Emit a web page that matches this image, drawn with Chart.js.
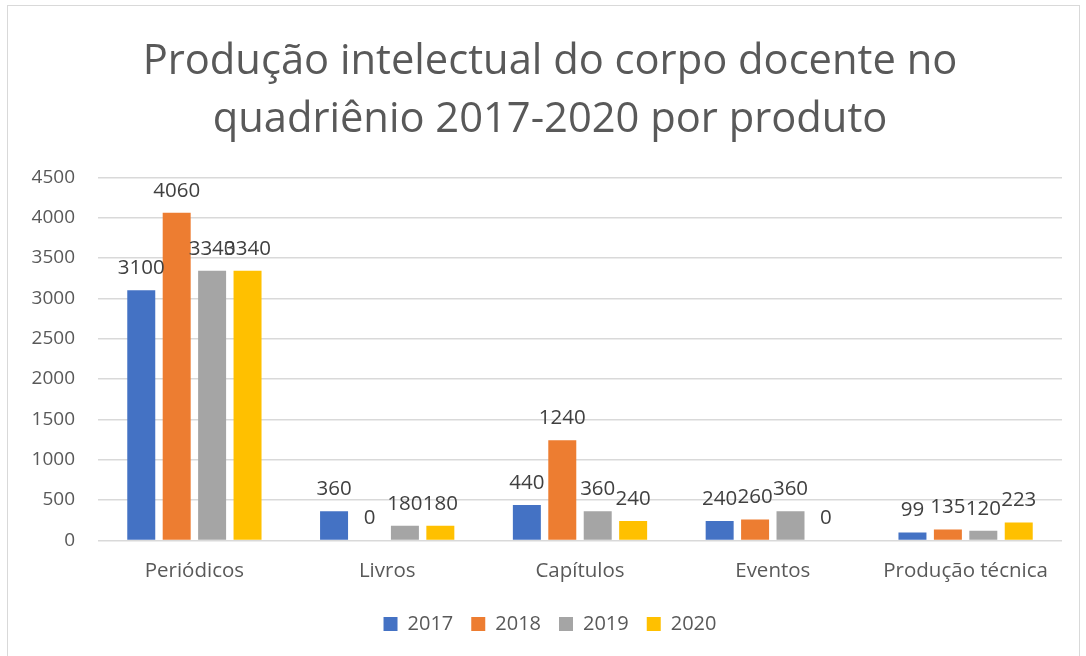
<!DOCTYPE html>
<html>
<head>
<meta charset="utf-8">
<script src="https://cdn.jsdelivr.net/npm/chart.js@4.4.0/dist/chart.umd.min.js"></script>
<style>
  html, body { margin: 0; padding: 0; background: #ffffff; }
  #wrap { position: relative; width: 1086px; height: 656px; overflow: hidden; }
  #frame { position: absolute; left: 7px; top: 5px; width: 1073px; height: 700px; border: 1px solid #d9d9d9; box-sizing: border-box; }
  canvas { position: absolute; left: 0; top: 0; }
</style>
</head>
<body>
<div id="wrap">
  <div id="frame"></div>
  <canvas id="c" width="1086" height="656"></canvas>
</div>
<script>
const categories = ["Periódicos", "Livros", "Capítulos", "Eventos", "Produção técnica"];
const seriesNames = ["2017", "2018", "2019", "2020"];
const values2017 = [3100, 360, 440, 240, 99];
const values2018 = [4060, 0, 1240, 260, 135];
const values2019 = [3340, 180, 360, 360, 120];
const values2020 = [3340, 180, 240, 0, 223];
const colors = ["#4472C4", "#ED7D31", "#A5A5A5", "#FFC000"];
const titleLines = ["Produção intelectual do corpo docente no", "quadriênio 2017-2020 por produto"];

const FONT = "'Open Sans', 'Noto Sans', sans-serif";
const TEXT = "#595959";

const labelPlugin = {
  id: 'barLabels',
  afterDatasetsDraw(chart) {
    const ctx = chart.ctx;
    ctx.save();
    ctx.font = "20.5px " + FONT;
    ctx.fillStyle = "#404040";
    ctx.textAlign = "center";
    ctx.textBaseline = "middle";
    chart.data.datasets.forEach((ds, i) => {
      const meta = chart.getDatasetMeta(i);
      meta.data.forEach((el, j) => {
        ctx.fillText(String(ds.data[j]), el.x, el.y - 22);
      });
    });
    ctx.restore();
  }
};

const allSeries = [values2017, values2018, values2019, values2020];

new Chart(document.getElementById('c'), {
  type: 'bar',
  data: {
    labels: categories,
    datasets: seriesNames.map((n, i) => ({
      label: n,
      data: allSeries[i],
      backgroundColor: colors[i],
      borderWidth: 0,
      categoryPercentage: 0.735,
      barPercentage: 0.79
    }))
  },
  options: {
    responsive: false,
    animation: false,
    devicePixelRatio: 1,
    layout: { padding: { left: 38, right: 24, top: 0, bottom: 12 } },
    plugins: {
      title: {
        display: true,
        text: titleLines,
        color: TEXT,
        font: { family: FONT, size: 41.7, weight: 'normal', lineHeight: 1.4 },
        padding: { top: 33, bottom: 27.5 }
      },
      legend: {
        position: 'bottom',
        labels: {
          color: TEXT,
          font: { family: FONT, size: 20 },
          boxWidth: 14,
          boxHeight: 14,
          padding: 18
        }
      },
      tooltip: { enabled: false }
    },
    scales: {
      x: {
        grid: { display: false, drawTicks: false },
        border: { display: false },
        ticks: { color: TEXT, font: { family: FONT, size: 20.5 }, padding: 18 },
        afterFit(scale) { scale.height = scale.height - 5; }
      },
      y: {
        min: 0,
        max: 4500,
        ticks: {
          stepSize: 500, color: TEXT, font: { family: FONT, size: 19 }, padding: 23,
          callback: (v) => String(v)
        },
        grid: { color: "#d9d9d9", lineWidth: 1.5, drawTicks: false },
        border: { display: false },
        afterFit(scale) {
          scale.width = 60;
          scale._computeLabelArea = () => null;
        }
      }
    }
  },
  plugins: [labelPlugin]
});
</script>
</body>
</html>
